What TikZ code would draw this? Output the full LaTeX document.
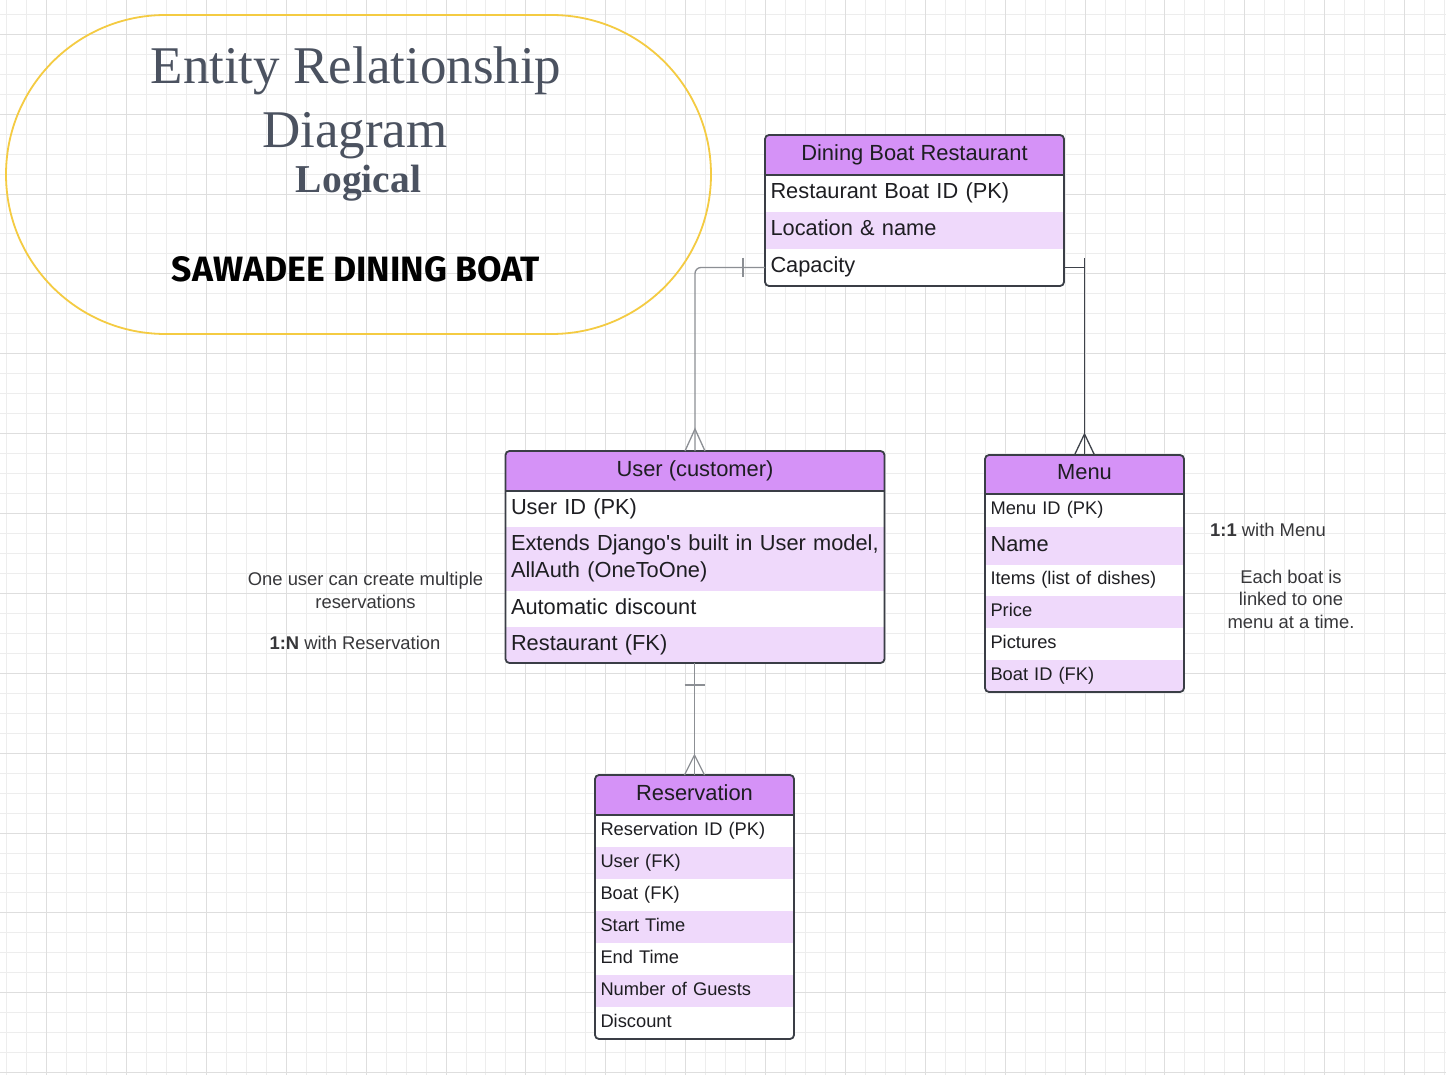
\documentclass[tikz,border=0pt]{standalone}
\usepackage{fontspec}
\usepackage{graphicx}
\setmainfont{Liberation Sans}[Ligatures=TeXOff]
\newfontfamily\serifttl{Liberation Serif}
\newfontfamily\handfnt{Fira Sans}
\usetikzlibrary{shapes.misc}
\definecolor{gridminor}{RGB}{237,237,237}
\definecolor{gridmajor}{RGB}{222,222,222}
\definecolor{hdrfill}{RGB}{213,146,247}
\definecolor{rowfill}{RGB}{239,217,251}
\definecolor{border}{RGB}{58,62,70}
\definecolor{txtdark}{RGB}{30,30,34}
\definecolor{notegray}{RGB}{55,55,58}
\definecolor{titlegray}{RGB}{75,82,96}
\definecolor{stadium}{RGB}{244,203,66}
\definecolor{conngray}{RGB}{140,143,148}
\definecolor{conndark}{RGB}{62,66,74}
\tikzset{
  cell/.style={anchor=north west, inner xsep=5.5pt, inner ysep=0pt, outer sep=0pt, align=left, text=txtdark, execute at begin node=\strut, execute at end node=\strut},
  hcell/.style={anchor=north west, inner sep=0pt, outer sep=0pt, fill=hdrfill, text=txtdark, align=center, font=\fontsize{21.9}{26.7}\selectfont, execute at begin node=\strut},
  rowlite/.style={fill=rowfill},
  fbig/.style={font=\fontsize{21.8}{26.7}\selectfont},
  fsmall/.style={font=\fontsize{18.3}{22}\selectfont},
  tblframe/.style={anchor=north west, draw=border, line width=1.8pt, rounded corners=4pt, inner sep=0pt, outer sep=0pt},
  hsep/.style={draw=border, line width=1.8pt},
  connA/.style={draw=conngray, line width=1.3pt},
  connB/.style={draw=conndark, line width=1.3pt},
  note/.style={align=center, text=notegray, font=\fontsize{18.4}{22.5}\selectfont, inner sep=0pt},
  ttl/.style={anchor=base, inner sep=0pt, text=titlegray},
}
\begin{document}
\begin{tikzpicture}[x=1pt,y=-1pt]
\useasboundingbox (0,0) rectangle (1446,1075);
\fill[white] (0,0) rectangle (1446,1075);
% grid
\foreach \i in {0,...,72} {
  \pgfmathtruncatemacro{\m}{mod(\i,4)}
  \ifnum\m=2 \else \draw[gridminor, line width=1pt] ({6.7+\i*19.97},0) -- ({6.7+\i*19.97},1075);\fi}
\foreach \j in {0,...,53} {
  \pgfmathtruncatemacro{\m}{mod(\j,4)}
  \ifnum\m=1 \else \draw[gridminor, line width=1pt] (0,{14.3+\j*19.97}) -- (1446,{14.3+\j*19.97});\fi}
\foreach \i in {0,...,17} {\draw[gridmajor, line width=1pt] ({46.64+\i*79.88},0) -- ({46.64+\i*79.88},1075);}
\foreach \j in {0,...,13} {\draw[gridmajor, line width=1pt] (0,{34.27+\j*79.88}) -- (1446,{34.27+\j*79.88});}

% title block
\node[draw=stadium, line width=1.8pt, rounded rectangle, minimum width=705pt, minimum height=319pt, inner sep=0pt] (ttlbox) at (358.5,174.5) {};
\node[ttl, font=\serifttl\fontsize{53}{60}\selectfont] (ttlA) at (356,83.3) {Entity Relationship};
\node[ttl, font=\serifttl\fontsize{53}{60}\selectfont] (ttlB) at (355,147.7) {Diagram};
\node[ttl, font=\serifttl\bfseries\fontsize{39.5}{44}\selectfont] (ttlC) at (358.5,192.7) {Logical};
\node[anchor=base, inner sep=0pt, text=black] (ttlD) at (356,281.7) {\resizebox{368pt}{25pt}{\handfnt\bfseries SAWADEE DINING BOAT}};

% Dining Boat Restaurant
\begin{scope}
\clip[rounded corners=4pt] (765,135) rectangle ++(299,151);
\fill[white] (765,135) rectangle ++(299,151);
\node[hcell, minimum width=299pt, minimum height=40pt] (dbrH) at (765,135) {Dining Boat Restaurant};
\node[cell, fbig, text width=288pt, minimum height=37pt] (dbrA) at (765,175) {Restaurant Boat ID (PK)};
\node[cell, fbig, rowlite, text width=288pt, minimum height=37pt] (dbrB) at (765,212) {Location \& name};
\node[cell, fbig, text width=288pt, minimum height=37pt] (dbrC) at (765,249) {Capacity};
\end{scope}
\node[tblframe, minimum width=299pt, minimum height=151pt] (dbr) at (765,135) {};
\draw[hsep] (dbrH.south west) -- (dbrH.south east);

% User
\begin{scope}
\clip[rounded corners=4pt] (505.5,451) rectangle ++(379,212);
\fill[white] (505.5,451) rectangle ++(379,212);
\node[hcell, minimum width=379pt, minimum height=40pt] (userH) at (505.5,451) {User (customer)};
\node[cell, fbig, text width=368pt, minimum height=36pt] (userA) at (505.5,491) {User ID (PK)};
\node[cell, fbig, rowlite, text width=368pt, minimum height=64pt] (userB) at (505.5,527) {\mbox{Extends Django's built in User model,}\\\mbox{AllAuth (OneToOne)}};
\node[cell, fbig, text width=368pt, minimum height=36pt] (userC) at (505.5,591) {Automatic discount};
\node[cell, fbig, rowlite, text width=368pt, minimum height=36pt] (userD) at (505.5,627) {Restaurant (FK)};
\end{scope}
\node[tblframe, minimum width=379pt, minimum height=212pt] (user) at (505.5,451) {};
\draw[hsep] (userH.south west) -- (userH.south east);

% Menu
\begin{scope}
\clip[rounded corners=4pt] (985,455) rectangle ++(199,237);
\fill[white] (985,455) rectangle ++(199,237);
\node[hcell, minimum width=199pt, minimum height=39pt] (menuH) at (985,455) {Menu};
\node[cell, fsmall, text width=188pt, minimum height=33pt] (menuA) at (985,494) {Menu ID (PK)};
\node[cell, fbig, rowlite, text width=188pt, minimum height=38pt] (menuB) at (985,527) {Name};
\node[cell, fsmall, text width=188pt, minimum height=31pt] (menuC) at (985,565) {Items (list of dishes)};
\node[cell, fsmall, rowlite, text width=188pt, minimum height=32pt] (menuD) at (985,596) {Price};
\node[cell, fsmall, text width=188pt, minimum height=32pt] (menuE) at (985,628) {Pictures};
\node[cell, fsmall, rowlite, text width=188pt, minimum height=32pt] (menuF) at (985,660) {Boat ID (FK)};
\end{scope}
\node[tblframe, minimum width=199pt, minimum height=237pt] (menu) at (985,455) {};
\draw[hsep] (menuH.south west) -- (menuH.south east);

% Reservation
\begin{scope}
\clip[rounded corners=4pt] (595,775) rectangle ++(199,264);
\fill[white] (595,775) rectangle ++(199,264);
\node[hcell, minimum width=199pt, minimum height=40pt] (resH) at (595,775) {Reservation};
\node[cell, fsmall, text width=188pt, minimum height=32pt] (resA) at (595,815) {Reservation ID (PK)};
\node[cell, fsmall, rowlite, text width=188pt, minimum height=32pt] (resB) at (595,847) {User (FK)};
\node[cell, fsmall, text width=188pt, minimum height=32pt] (resC) at (595,879) {Boat (FK)};
\node[cell, fsmall, rowlite, text width=188pt, minimum height=32pt] (resD) at (595,911) {Start Time};
\node[cell, fsmall, text width=188pt, minimum height=32pt] (resE) at (595,943) {End Time};
\node[cell, fsmall, rowlite, text width=188pt, minimum height=32pt] (resF) at (595,975) {Number of Guests};
\node[cell, fsmall, text width=188pt, minimum height=32pt] (resG) at (595,1007) {Discount};
\end{scope}
\node[tblframe, minimum width=199pt, minimum height=264pt] (res) at (595,775) {};
\draw[hsep] (resH.south west) -- (resH.south east);

% connectors
\draw[connA, rounded corners=6pt] (dbrC.west) -| (user.north);
\draw[connA] ([xshift=-22pt,yshift=9.5pt]dbrC.west) -- ([xshift=-22pt,yshift=-9.5pt]dbrC.west);
\draw[connA] ([xshift=-10pt]user.north) -- ([yshift=22pt]user.north) -- ([xshift=10pt]user.north);

\coordinate (mcorner) at (menu.north |- dbrC.east);
\draw[connB] (dbrC.east) -- (mcorner) -- (menu.north);
\draw[connB] ([yshift=9pt]mcorner) -- ([yshift=-10pt]mcorner);
\draw[connB] ([xshift=-10pt]menu.north) -- ([yshift=21pt]menu.north) -- ([xshift=10pt]menu.north);

\coordinate (rtop) at (res.north |- user.south);
\draw[connA] (rtop) -- (res.north);
\draw[connA] ([xshift=-10pt,yshift=-22pt]rtop) -- ([xshift=10pt,yshift=-22pt]rtop);
\draw[connA] ([xshift=-10pt]res.north) -- ([yshift=20pt]res.north) -- ([xshift=10pt]res.north);

% notes
\node[note] (noteA) at (365.5,590.3) {One user can create multiple\\reservations};
\node[note] (noteB) at (355,642.7) {\textbf{1:N} with Reservation};
\node[note] (noteC) at (1268,530) {\textbf{1:1} with Menu};
\node[note] (noteD) at (1291,599) {Each boat is\\linked to one\\menu at a time.};
\end{tikzpicture}
\end{document}
